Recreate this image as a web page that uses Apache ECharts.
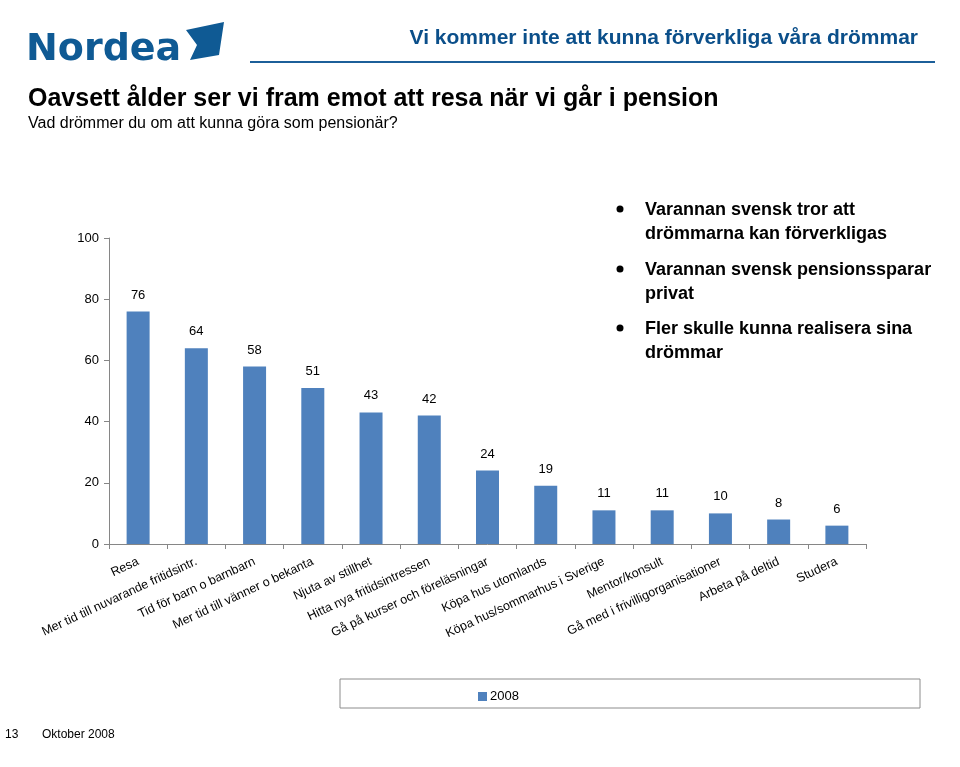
<!DOCTYPE html>
<html><head><meta charset="utf-8">
<script src="https://cdn.jsdelivr.net/npm/echarts@6/dist/echarts.min.js"></script>
<style>html,body{margin:0;padding:0;background:#fff}#c{width:960px;height:767px}</style>
</head><body><div id="c"></div>
<script>
const categories = ["Resa","Mer tid till nuvarande fritidsintr.","Tid för barn o barnbarn","Mer tid till vänner o bekanta","Njuta av stillhet","Hitta nya fritidsintressen","Gå på kurser och föreläsningar","Köpa hus utomlands","Köpa hus/sommarhus i Sverige","Mentor/konsult","Gå med i frivilligorganisationer","Arbeta på deltid","Studera"];
const values2008 = [76,64,58,51,43,42,24,19,11,11,10,8,6];
const yTicks = [0,20,40,60,80,100];
const seriesName = "2008";
const bullets = [["Varannan svensk tror att","drömmarna kan förverkligas"],["Varannan svensk pensionssparar","privat"],["Fler skulle kunna realisera sina","drömmar"]];

const chart = echarts.init(document.getElementById('c'));
const F = 'Liberation Sans, Arial, sans-serif';
const gfx = [
  {type:'text',left:26,top:31,style:{text:'Nordea',font:'bold 38px "DejaVu Sans", sans-serif',fill:'#0f5a94'}},
  {type:'polygon',shape:{points:[[186,30],[224,22],[219,55],[190,60],[197,45]]},style:{fill:'#0f5a94'}},
  {type:'text',right:42,top:28,style:{text:'Vi kommer inte att kunna förverkliga våra drömmar',font:'bold 21px '+F,fill:'#0b4f8a'}},
  {type:'line',shape:{x1:250,y1:62,x2:935,y2:62},style:{stroke:'#1c5f99',lineWidth:2}},
  {type:'text',left:28,top:87,style:{text:'Oavsett ålder ser vi fram emot att resa när vi går i pension',font:'bold 25px '+F,fill:'#000'}},
  {type:'text',left:28,top:116,style:{text:'Vad drömmer du om att kunna göra som pensionär?',font:'16px '+F,fill:'#000'}},
  {type:'rect',shape:{x:340,y:679,width:580,height:29},style:{fill:'none',stroke:'#8c8c8c',lineWidth:1}},
  {type:'text',left:5,top:729,style:{text:'13',font:'12px '+F,fill:'#000'}},
  {type:'text',left:42,top:729,style:{text:'Oktober 2008',font:'12px '+F,fill:'#000'}}
];
const bTops = [198, 258, 317];
bullets.forEach((b,i)=>{
  gfx.push({type:'circle',shape:{cx:620,cy:bTops[i]+11,r:3.5},style:{fill:'#000'}});
  gfx.push({type:'text',left:645,top:bTops[i],style:{text:b.join('\n'),font:'bold 18px '+F,fill:'#000',lineHeight:24}});
});

chart.setOption({
  animation:false,
  textStyle:{fontFamily:F},
  grid:{left:109,right:94,top:238,bottom:223,containLabel:false},
  legend:{left:473,top:685,itemWidth:9,itemHeight:9,itemGap:3,icon:'rect',
    textStyle:{fontSize:13,color:'#000',padding:[0,0,0,-2]},data:[seriesName]},
  xAxis:{type:'category',data:categories,
    axisLine:{lineStyle:{color:'#868686'}},
    axisTick:{show:true,alignWithLabel:false,length:5,lineStyle:{color:'#868686'}},
    axisLabel:{rotate:25,interval:0,fontSize:12.5,color:'#000',margin:17}},
  yAxis:{type:'value',min:yTicks[0],max:yTicks[yTicks.length-1],interval:20,
    axisLine:{show:true,lineStyle:{color:'#868686'}},
    axisTick:{show:true,length:5,lineStyle:{color:'#868686'}},
    splitLine:{show:false},
    axisLabel:{fontSize:13,color:'#000',margin:10}},
  series:[{name:seriesName,type:'bar',data:values2008,barWidth:23,
    itemStyle:{color:'#4f81bd'},
    label:{show:true,position:'top',distance:10,fontSize:13,color:'#000'}}],
  graphic:gfx
});
</script></body></html>
